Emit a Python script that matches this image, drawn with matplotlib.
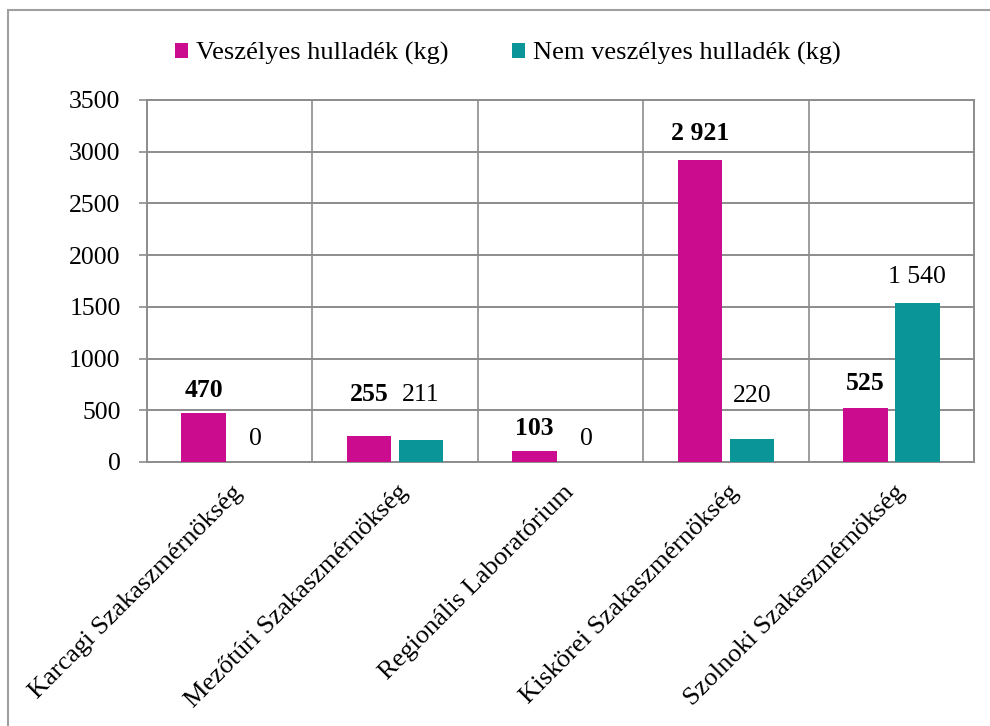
import matplotlib.pyplot as plt
import matplotlib.patches as mpatches
import matplotlib.transforms as mtrans
import numpy as np

plt.rcParams['font.family'] = ['Liberation Serif', 'DejaVu Serif']

categories = ['Karcagi Szakaszmérnökség', 'Mezőtúri Szakaszmérnökség',
              'Regionális Laboratórium', 'Kiskörei Szakaszmérnökség',
              'Szolnoki Szakaszmérnökség']
veszelyes = [470, 255, 103, 2921, 525]
nem_veszelyes = [0, 211, 0, 220, 1540]
series_names = ['Veszélyes hulladék (kg)', 'Nem veszélyes hulladék (kg)']

# label lift above bar top, in points (some moved up to avoid overlap)
lift_v = [12, 25, 12, 14, 13]
lift_n = [12, 28, 12, 27, 14]

c_mag = '#CC0C8E'
c_teal = '#0A9599'
grid_c = '#8C8C8C'
fs = 19


def fmt(v):
    return f'{v:,}'.replace(',', ' ')


fig = plt.figure(figsize=(9.9, 7.26), dpi=100)
ax = fig.add_axes([147/990, 1 - 462/726, (974-147)/990, (462-100)/726])

x = np.arange(len(categories))
w = 0.27
b1 = ax.bar(x - 0.157, veszelyes, w, color=c_mag, label=series_names[0], zorder=3)
b2 = ax.bar(x + 0.157, nem_veszelyes, w, color=c_teal, label=series_names[1], zorder=3)

for rect, v, l in zip(b1, veszelyes, lift_v):
    ax.annotate(fmt(v), (rect.get_x() + rect.get_width()/2, v),
                xytext=(0, l), textcoords='offset points',
                ha='center', va='baseline', fontsize=18.5, fontweight='bold')
for rect, v, l in zip(b2, nem_veszelyes, lift_n):
    ax.annotate(fmt(v), (rect.get_x() + rect.get_width()/2, v),
                xytext=(0, l), textcoords='offset points',
                ha='center', va='baseline', fontsize=18.5)

ax.set_xlim(-0.5, len(categories) - 0.5)
ax.set_ylim(0, 3500)
ax.set_yticks(np.arange(0, 3501, 500))
ax.yaxis.grid(True, color=grid_c, lw=1.4, zorder=0)
for xb in np.arange(0.5, len(categories) - 0.5, 1):
    ax.axvline(xb, color=grid_c, lw=1.2, zorder=0)

ax.set_xticks(x)
ax.set_xticklabels(categories, rotation=45, ha='right', va='top',
                   rotation_mode='anchor', fontsize=fs)
ax.tick_params(axis='x', length=0, pad=14)
ax.tick_params(axis='y', length=6, width=1.2, color=grid_c, labelsize=18.5, pad=13)

off = mtrans.ScaledTranslation(2/100, 0, fig.dpi_scale_trans)
for lbl in ax.get_xticklabels():
    lbl.set_transform(lbl.get_transform() + off)

for s in ax.spines.values():
    s.set_color(grid_c)
    s.set_linewidth(1.4)

fig.legend(handles=[b1, b2], loc='upper center', bbox_to_anchor=(0.513, 0.975),
           ncol=2, frameon=False, fontsize=fs, handlelength=0.5,
           handleheight=0.5, handletextpad=0.3, columnspacing=2.4)

# outer chart border
fig.patches.append(mpatches.Rectangle((8/990, -0.1), 1.2, 1.1 - 10/726,
                                      transform=fig.transFigure, fill=False,
                                      edgecolor='#A0A0A0', lw=1.5))

fig.savefig('out.png', dpi=100)
